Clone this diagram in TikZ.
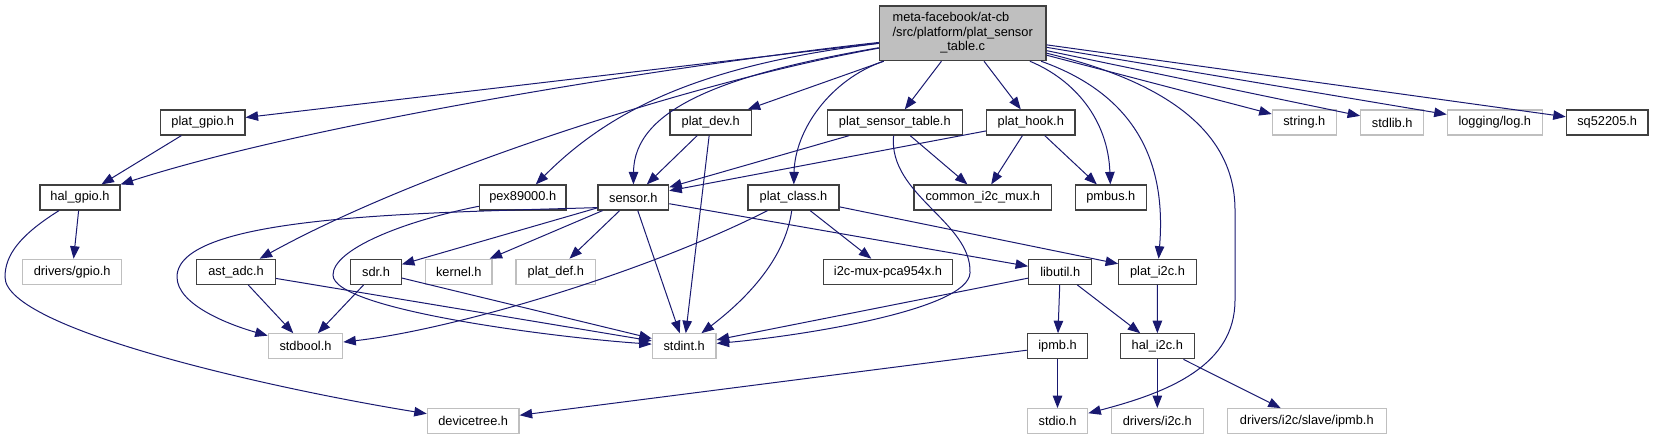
\documentclass[tikz,border=0pt]{standalone}
\usepackage{fontspec}
\setmainfont{Liberation Sans}
\usetikzlibrary{arrows.meta}
\definecolor{edgec}{HTML}{191970}
\definecolor{grayb}{HTML}{BFBFBF}
\definecolor{mainfill}{HTML}{BFBFBF}
\definecolor{docb}{HTML}{404040}
\begin{document}
\begin{tikzpicture}[x=1pt,y=-1pt,
 every node/.style={font=\fontsize{12.8}{14.7}\selectfont},
 doc/.style={draw=docb, line width=1.2pt, fill=white, minimum height=25pt, inner sep=0pt},
 ext/.style={draw=grayb, line width=1.2pt, fill=white, minimum height=25pt, inner sep=0pt},
 mainbox/.style={draw=docb, line width=1.2pt, fill=mainfill, minimum width=166.7pt, minimum height=54.7pt, inner sep=0pt},
 dep/.style={draw=edgec, line width=1pt, -{Triangle[length=12.5pt,width=9.5pt]}}
]
\useasboundingbox (0,0) rectangle (1653,440);
% main
\node[mainbox] (main) at (962.7,33.3) {\begin{tabular}{@{}l@{}}meta-facebook/at-cb\\/src/platform/plat\_sensor\\\multicolumn{1}{@{}c@{}}{\_table.c}\end{tabular}};
% row 1
\node[doc, minimum width=84.3pt] (plat_gpio) at (202.8,122.5) {plat\_gpio.h};
\node[doc, minimum width=81.3pt] (plat_dev) at (710.7,122.5) {plat\_dev.h};
\node[doc, minimum width=135pt] (pst) at (894.8,122.5) {plat\_sensor\_table.h};
\node[doc, minimum width=88.3pt] (plat_hook) at (1030.8,122.5) {plat\_hook.h};
\node[ext, minimum width=64pt] (string) at (1304.3,122.5) {string.h};
\node[ext, minimum width=63pt] (stdlib) at (1392.2,122.5) {stdlib.h};
\node[ext, minimum width=95pt] (logging) at (1494.8,122.5) {logging/log.h};
\node[doc, minimum width=81.7pt] (sq) at (1607.2,122.5) {sq52205.h};
% row 2
\node[doc, minimum width=80pt] (hal_gpio) at (80,197.5) {hal\_gpio.h};
\node[doc, minimum width=86.7pt] (pex) at (522.7,197.5) {pex89000.h};
\node[doc, minimum width=70.7pt] (sensor) at (633.3,197.5) {sensor.h};
\node[doc, minimum width=91pt] (plat_class) at (793.5,197.5) {plat\_class.h};
\node[doc, minimum width=137.7pt] (cmux) at (982.8,197.5) {common\_i2c\_mux.h};
\node[doc, minimum width=71pt] (pmbus) at (1110.8,197.5) {pmbus.h};
% row 3
\node[ext, minimum width=99pt] (dgpio) at (72.2,271.8) {drivers/gpio.h};
\node[doc, minimum width=78.6pt] (ast_adc) at (236,271.8) {ast\_adc.h};
\node[doc, minimum width=50.6pt] (sdr) at (376,271.8) {sdr.h};
\node[ext, minimum width=66.3pt] (kernel) at (458.8,271.8) {kernel.h};
\node[ext, minimum width=79.7pt] (plat_def) at (555.8,271.8) {plat\_def.h};
\node[doc, minimum width=129.4pt] (pca) at (888,271.8) {i2c-mux-pca954x.h};
\node[doc, minimum width=63pt] (libutil) at (1060.2,271.8) {libutil.h};
\node[doc, minimum width=77.6pt] (plat_i2c) at (1157.5,271.8) {plat\_i2c.h};
% row 4
\node[ext, minimum width=74.4pt] (stdbool) at (305.5,346.3) {stdbool.h};
\node[ext, minimum width=63.7pt] (stdint) at (684.2,346.3) {stdint.h};
\node[doc, minimum width=60.4pt] (ipmb) at (1057.5,346.3) {ipmb.h};
\node[doc, minimum width=74pt] (hal_i2c) at (1157.3,346.3) {hal\_i2c.h};
% row 5
\node[ext, minimum width=91.7pt] (devtree) at (473.2,421.2) {devicetree.h};
\node[ext, minimum width=60.4pt] (stdio) at (1057.5,421.2) {stdio.h};
\node[ext, minimum width=92pt] (di2c) at (1157.3,421.2) {drivers/i2c.h};
\node[ext, minimum width=159pt] (dslave) at (1306.8,421.2) {drivers/i2c/slave/ipmb.h};

% edges from main
\draw[dep] (main) -- (plat_gpio);
\draw[dep] (main) .. controls (700,62) and (320,120) .. (hal_gpio);
\draw[dep] (main) .. controls (700,65) and (610,110) .. (pex);
\draw[dep] (main) .. controls (700,80) and (420,170) .. (ast_adc);
\draw[dep] (main) .. controls (720,75) and (634,110) .. (sensor);
\draw[dep] (main) -- (plat_dev);
\draw[dep] (main) .. controls (830,80) and (795,130) .. (plat_class);
\draw[dep] (main) -- (pst);
\draw[dep] (main) -- (plat_hook);
\draw[dep] (main) .. controls (1075,80) and (1108,120) .. (pmbus);
\draw[dep] (main) .. controls (1150,100) and (1165,180) .. (plat_i2c);
\draw[dep] (main) .. controls (1180,85) and (1235,140) .. (1235,210) -- (1235,300) .. controls (1235,365) and (1170,392) .. (stdio);
\draw[dep] (main) -- (string);
\draw[dep] (main) -- (stdlib);
\draw[dep] (main) -- (logging);
\draw[dep] (main) -- (sq);
% other edges
\draw[dep] (plat_gpio) -- (hal_gpio);
\draw[dep] (hal_gpio) -- (dgpio);
\draw[dep] (hal_gpio) .. controls (20,235) and (5,255) .. (5,277) .. controls (5,330) and (280,390) .. (devtree);
\draw[dep] (pex) .. controls (400,222) and (333,250) .. (333,275) .. controls (333,310) and (560,338) .. (stdint);
\draw[dep] ([yshift=3pt]sensor.south west) .. controls (420,213) and (177,215) .. (177,277) .. controls (177,305) and (230,325) .. (stdbool);
\draw[dep] (sensor) -- (sdr);
\draw[dep] (sensor) -- (kernel);
\draw[dep] (sensor) -- (plat_def);
\draw[dep] (sensor) -- (stdint);
\draw[dep] (sensor) -- (libutil);
\draw[dep] (plat_dev) -- (sensor);
\draw[dep] (plat_dev) -- (stdint);
\draw[dep] (pst) -- (sensor);
\draw[dep] (pst) -- (cmux);
\draw[dep] (pst) .. controls (888,195) and (972,222) .. (970,273) .. controls (968,310) and (800,336) .. (stdint);
\draw[dep] (plat_hook) -- (sensor);
\draw[dep] (plat_hook) -- (cmux);
\draw[dep] (plat_hook) -- (pmbus);
\draw[dep] (plat_class) .. controls (640,275) and (450,330) .. (stdbool);
\draw[dep] (plat_class) .. controls (785,260) and (745,300) .. (stdint);
\draw[dep] (plat_class) -- (pca);
\draw[dep] (plat_class) -- (plat_i2c);
\draw[dep] (ast_adc) -- (stdbool);
\draw[dep] (ast_adc) -- (stdint);
\draw[dep] (sdr) -- (stdbool);
\draw[dep] (sdr) -- (stdint);
\draw[dep] (libutil) -- (stdint);
\draw[dep] (libutil) -- (ipmb);
\draw[dep] (libutil) -- (hal_i2c);
\draw[dep] (plat_i2c) -- (hal_i2c);
\draw[dep] (ipmb) -- (devtree);
\draw[dep] (ipmb) -- (stdio);
\draw[dep] (hal_i2c) -- (di2c);
\draw[dep] (hal_i2c) -- (dslave);
\end{tikzpicture}
\end{document}
